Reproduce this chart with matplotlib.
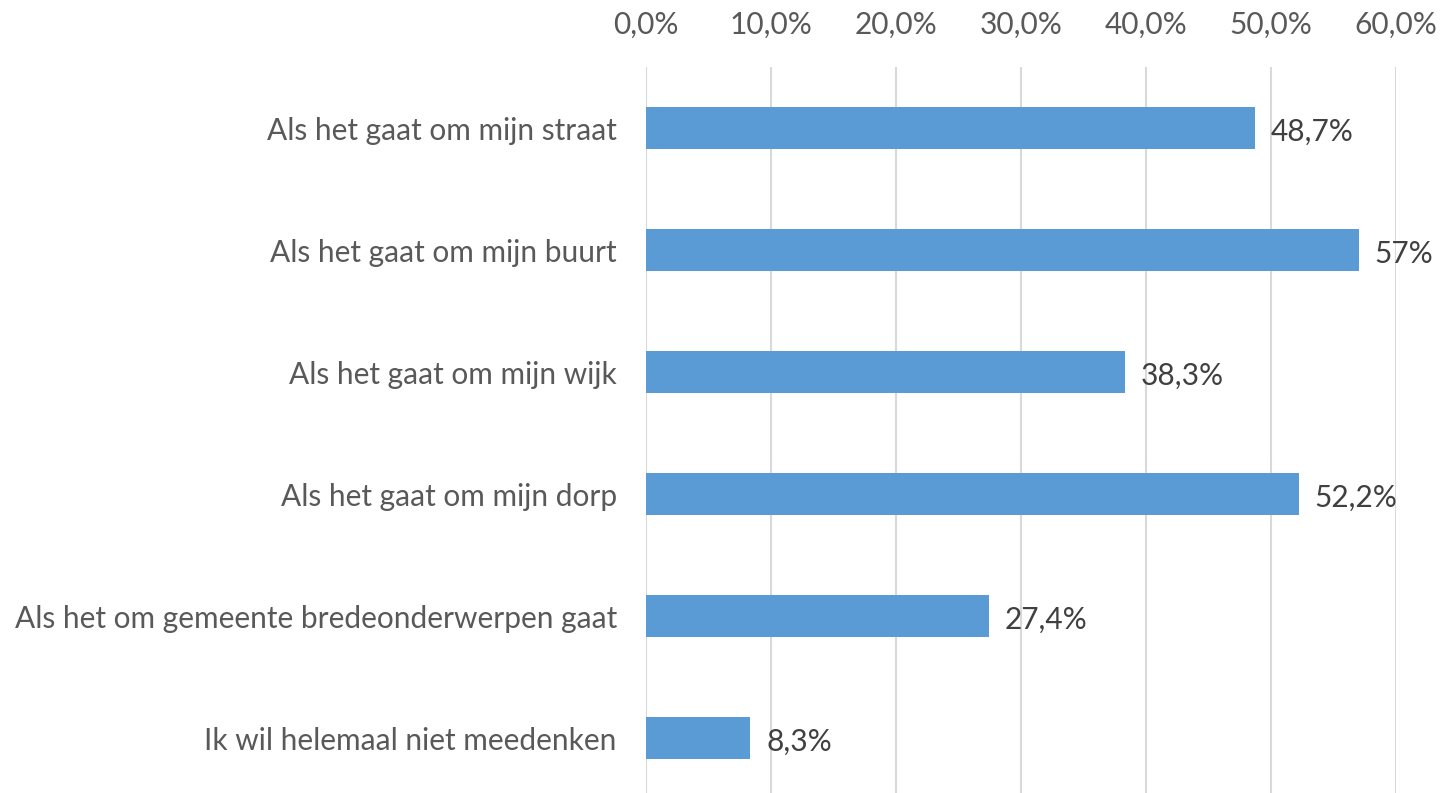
import numpy as np
import matplotlib.pyplot as plt

# data
categories = [
    "Als het gaat om mijn straat",
    "Als het gaat om mijn buurt",
    "Als het gaat om mijn wijk",
    "Als het gaat om mijn dorp",
    "Als het om gemeente bredeonderwerpen gaat",
    "Ik wil helemaal niet meedenken",
]
values = [48.7, 57.0, 38.3, 52.2, 27.4, 8.3]
value_labels = ["48,7%", "57%", "38,3%", "52,2%", "27,4%", "8,3%"]
xticks = [0, 10, 20, 30, 40, 50, 60]
xtick_labels = ["0,0%", "10,0%", "20,0%", "30,0%", "40,0%", "50,0%", "60,0%"]

BAR_COLOR = "#5B9BD5"
GRID_COLOR = "#D9D9D9"
FS = 21.5
plt.rcParams['font.family'] = ['Lato', 'DejaVu Sans']

fig = plt.figure(figsize=(14.4, 7.93), dpi=100)
ax = fig.add_axes([646/1440, 0, 750/1440, 726/793])

y = np.arange(len(categories))
ax.barh(y, values, height=0.345, color=BAR_COLOR, zorder=3)

for yi, v, lab in zip(y, values, value_labels):
    ax.text(v + 1.3, yi + 0.03, lab, va='center', ha='left',
            fontsize=FS, color='#404040')

ax.set_xlim(0, 60)
ax.set_ylim(5.45, -0.5)
ax.set_xticks(xticks)
ax.set_xticklabels(xtick_labels)
ax.set_yticks(y)
ax.set_yticklabels(categories)
ax.xaxis.tick_top()
ax.tick_params(axis='x', length=0, pad=20, labelsize=FS, labelcolor='#595959')
ax.tick_params(axis='y', length=0, pad=21, labelsize=FS, labelcolor='#595959')
ax.grid(axis='x', color=GRID_COLOR, linewidth=1.5, zorder=0)
for s in ax.spines.values():
    s.set_visible(False)

fig.savefig("out.png", dpi=100)
